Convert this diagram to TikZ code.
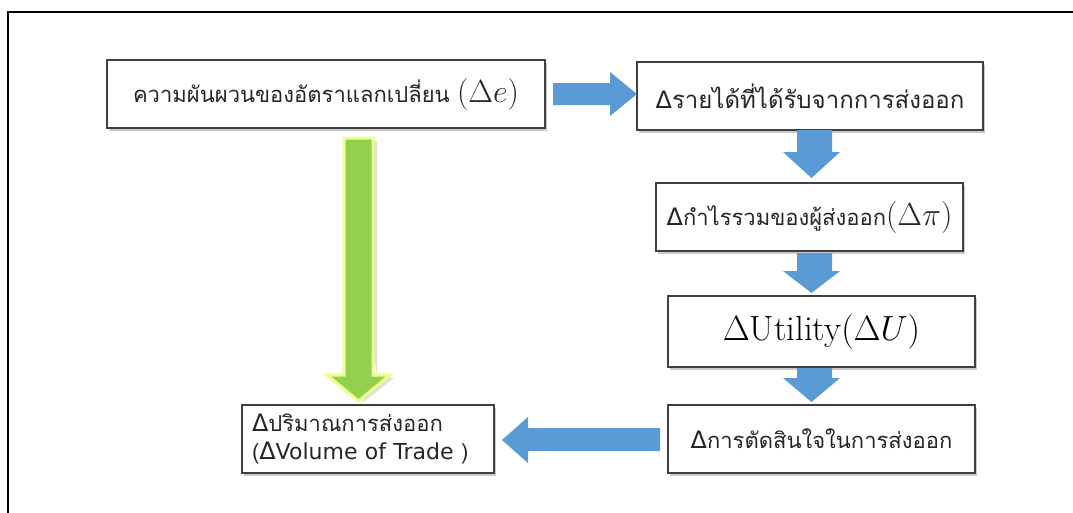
\RequirePackage{fix-cm}
\documentclass[tikz,border=0pt]{standalone}
\usepackage{fontspec}
\newfontfamily\thai[Script=Thai]{Loma}
\newfontfamily\dv{DejaVu Sans}
\usetikzlibrary{shadows}
\definecolor{arrowblue}{HTML}{5B9BD5}
\definecolor{arrowgreen}{HTML}{92D050}
\definecolor{glow}{HTML}{EEFF8C}
\definecolor{boxline}{HTML}{404040}
\newcommand{\dlt}{{\dv\fontsize{24}{28}\selectfont Δ}}
\newcommand{\largemath}[1]{{\fontsize{32}{36}\selectfont$#1$}}
\tikzset{
  box/.style={draw=boxline, line width=1.1pt, fill=white, rectangle, inner sep=0pt,
    drop shadow={shadow xshift=2pt, shadow yshift=-2.5pt, opacity=0.35, fill=black!60}},
  thaitext/.style={font=\thai\fontsize{22}{28}\selectfont, text=black!85},
  barrow/.style={fill=arrowblue, draw=none},
  garrow/.style={fill=arrowgreen, draw=glow, line width=3pt, line join=miter},
  frame/.style={line width=2.4pt, draw=black}
}
\begin{document}
\begin{tikzpicture}[x=1pt, y=-1pt]
\useasboundingbox (0,0) rectangle (1073,512);
\fill[white] (0,0) rectangle (1073,512);
\draw[frame] (1074,12) -- (8,12) -- (8,513);

\node[box, thaitext, minimum width=438pt, minimum height=68pt] (A) at (326,94)
  {ความผันผวนของอัตราแลกเปลี่ยน \largemath{(\Delta e)}};
\node[box, thaitext, font=\thai\fontsize{24}{28}\selectfont, minimum width=346pt, minimum height=68pt] (B) at (810,96)
  {\dlt รายได้ที่ได้รับจากการส่งออก};
\node[box, thaitext, minimum width=307pt, minimum height=68pt] (C) at (809.5,217)
  {\dlt กำไรรวมของผู้ส่งออก\largemath{(\Delta\pi)}};
\node[box, font=\fontsize{35}{40}\selectfont, minimum width=307pt, minimum height=71pt] (D) at (821.5,331.5)
  {$\Delta$Utility$(\Delta U)$};
\node[box, thaitext, minimum width=307pt, minimum height=68pt] (E) at (821.5,439)
  {\dlt การตัดสินใจในการส่งออก};
\node[box, thaitext, minimum width=252pt, minimum height=68pt, text width=232pt, align=left] (F) at (368,439)
  {\dlt ปริมาณการส่งออก\\({\dv\dlt Volume of Trade} )};

% blue right arrow A -> B
\fill[barrow] (553,83) -- (610,83) -- (610,72) -- (637,94) -- (610,116) -- (610,105) -- (553,105) -- cycle;
% blue down arrows
\fill[barrow] (797,130) -- (832,130) -- (832,152) -- (840,152) -- (811.5,178) -- (783,152) -- (797,152) -- cycle;
\fill[barrow] (797,253) -- (832,253) -- (832,271) -- (840,271) -- (811.5,293) -- (783,271) -- (797,271) -- cycle;
\fill[barrow] (797,368) -- (832,368) -- (832,378) -- (840,378) -- (811.5,402) -- (783,378) -- (797,378) -- cycle;
% blue left arrow E -> F
\fill[barrow] (660,428) -- (528,428) -- (528,417) -- (502,440) -- (528,463) -- (528,451) -- (660,451) -- cycle;
% green down arrow A -> F
\fill[black, opacity=0.12] (347,141) -- (377,141) -- (377,378) -- (394,378) -- (361,404) -- (377,378) -- cycle;
\draw[garrow] (344,138) -- (373,138) -- (373,375) -- (390,375) -- (358.5,401) -- (327,375) -- (344,375) -- cycle;
\end{tikzpicture}
\end{document}
